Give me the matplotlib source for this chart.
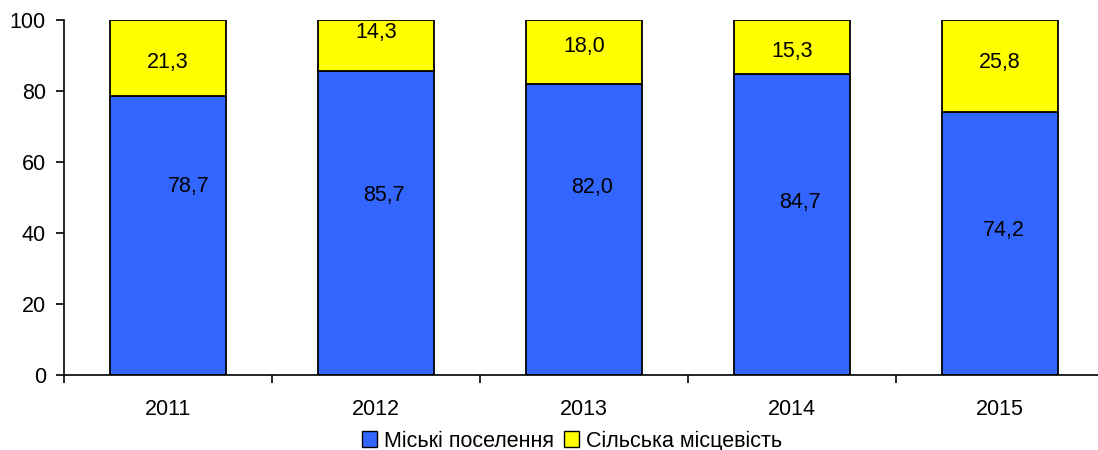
import matplotlib
matplotlib.use("Agg")
import matplotlib.pyplot as plt
import numpy as np
from matplotlib.patches import Patch

years = ["2011", "2012", "2013", "2014", "2015"]
urban = [78.7, 85.7, 82.0, 84.7, 74.2]
rural = [21.3, 14.3, 18.0, 15.3, 25.8]
urban_labels = ["78,7", "85,7", "82,0", "84,7", "74,2"]
rural_labels = ["21,3", "14,3", "18,0", "15,3", "25,8"]

# label placement as in the original (hand-placed there)
urban_label_y = [53.0, 50.7, 52.7, 48.7, 40.6]
urban_label_dx = [0.10, 0.04, 0.04, 0.04, 0.02]
rural_label_y = [88.0, 96.4, 92.4, 91.2, 88.0]

blue = "#3366FF"
yellow = "#FFFF00"
fs = 15.5

plt.rcParams["font.family"] = ["Liberation Sans", "DejaVu Sans"]

fig = plt.figure(figsize=(10.98, 4.5), dpi=100)
ax = fig.add_axes([64 / 1098, 75 / 450, 1040 / 1098, 355 / 450])

x = np.arange(len(years))
ax.bar(x, urban, width=0.56, color=blue, edgecolor="black", linewidth=1.3)
ax.bar(x, rural, width=0.56, bottom=urban, color=yellow, edgecolor="black", linewidth=1.3)

for i in range(len(years)):
    ax.text(x[i] + urban_label_dx[i], urban_label_y[i], urban_labels[i],
            ha="center", va="center", fontsize=fs)
    ax.text(x[i], rural_label_y[i], rural_labels[i],
            ha="center", va="center", fontsize=fs)

ax.set_xlim(-0.5, len(years) - 0.5)
ax.set_ylim(0, 100)
ax.set_yticks(range(0, 101, 20))
ax.set_xticks(np.arange(-0.5, len(years), 1.0))
ax.set_xticklabels([])
ax.set_xticks(x, minor=True)
ax.set_xticklabels(years, minor=True)
ax.tick_params(axis="x", which="minor", length=0, pad=17, labelsize=fs)
ax.tick_params(axis="x", which="major", length=6, width=1.2, direction="out")
ax.tick_params(axis="y", length=6, width=1.2, direction="out", labelsize=fs, pad=7)
for s in ["top", "right"]:
    ax.spines[s].set_visible(False)
for s in ["left", "bottom"]:
    ax.spines[s].set_linewidth(1.2)

handles = [Patch(facecolor=blue, edgecolor="black", label="Міські поселення"),
           Patch(facecolor=yellow, edgecolor="black", label="Сільська місцевість")]
fig.legend(handles=handles, loc="center", bbox_to_anchor=(572 / 1098, 1 - 441 / 450),
           ncol=2, frameon=False, fontsize=fs, handlelength=0.7, handleheight=0.7,
           handletextpad=0.3, columnspacing=0.5, borderpad=0)

fig.savefig("out.png", dpi=100)
